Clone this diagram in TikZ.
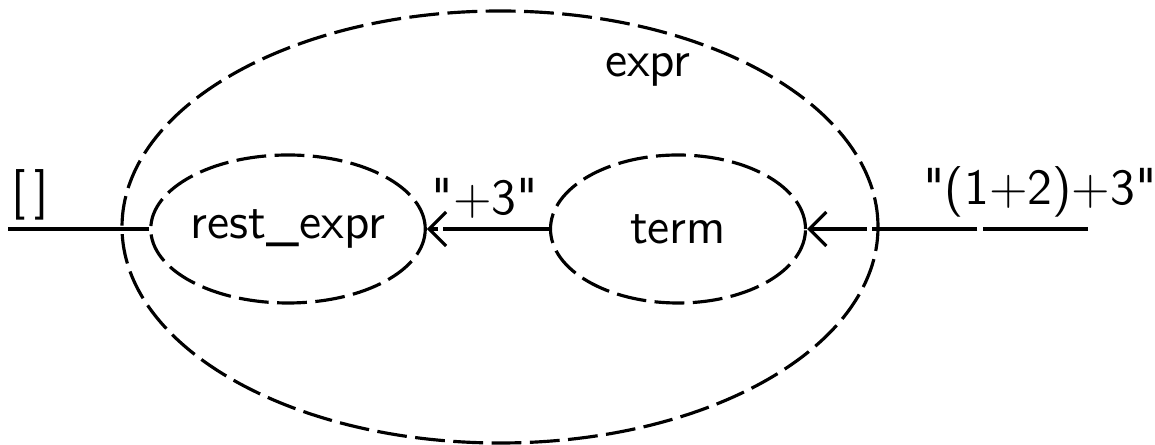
\documentclass[tikz,border=0pt]{standalone}
\usepackage{tikz}
\usetikzlibrary{arrows.meta,positioning,shapes.geometric}

\begin{document}
\begin{tikzpicture}[
  line width=0.9pt,
  blob/.style={ellipse, draw, dash pattern=on 8.5pt off 2.4pt,
    minimum width=2.55cm, minimum height=1.48cm, font=\Large\sffamily, inner sep=0pt},
  lbl/.style={font=\Large\sffamily, inner sep=1pt},
  arr/.style={-{Straight Barb[length=1.7mm, width=3.4mm]}},
  flow/.style={dash pattern=on 30pt off 1.5pt}
]
\useasboundingbox (0,0) rectangle (11.55,4.45);
\draw[dash pattern=on 8.5pt off 2.4pt] (5.00,2.18) ellipse [x radius=3.78cm, y radius=2.16cm];
\node[lbl] (exprlbl) at (6.48,3.75) {expr};
\node[blob] (rest) at (2.88,2.16) {rest\_expr};
\node[blob] (term) at (6.78,2.16) {term};
\coordinate (inp) at (10.88,2.16);
\coordinate (outp) at (0.08,2.16);
\draw[arr, flow] (inp) -- (term);
\draw[arr, flow] (term) -- (rest);
\draw (rest) -- (outp);
\node[lbl] (inlbl) at (10.40,2.53) {\textquotedbl(1+2)+3\textquotedbl};
\node[lbl] (midlbl) at (4.85,2.47) {\textquotedbl+3\textquotedbl};
\node[lbl] (outlbl) at (0.30,2.50) {[\,]};
\end{tikzpicture}
\end{document}
